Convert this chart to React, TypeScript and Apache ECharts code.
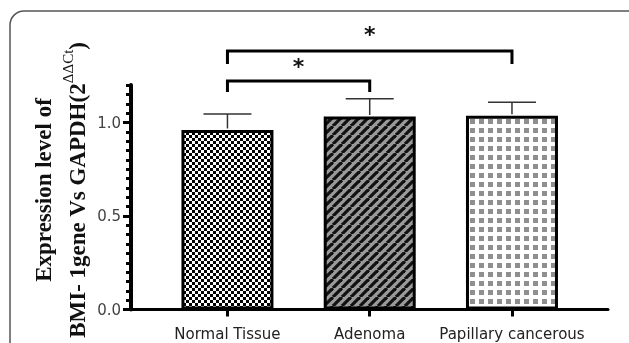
import React, { useEffect, useRef } from 'react';
import * as echarts from 'echarts';

const categories = ['Normal Tissue', 'Adenoma', 'Papillary cancerous'];
const means = [0.96, 1.032, 1.036];
const errors = [0.085, 0.095, 0.072];
const yTickValues = [0, 0.5, 1.0];
const yMax = 1.2;
const minorStep = 0.05;
// significance comparisons
const compFrom = [0, 0];
const compTo = [1, 2];
const compLevel = [1.222, 1.382];
const compLeg = [1.163, 1.313];
const compStarLevel = [1.3, 1.472];
const compLabel = ['*', '*'];

const X_MIN = 0.322;
const X_MAX = 3.675;

function makeCanvas(size: number, draw: (ctx: CanvasRenderingContext2D) => void) {
  const c = document.createElement('canvas');
  c.width = size;
  c.height = size;
  const ctx = c.getContext('2d')!;
  draw(ctx);
  return c;
}

export default function App() {
  const ref = useRef<HTMLDivElement>(null);
  useEffect(() => {
    if (!ref.current) return;
    const chart = echarts.init(ref.current, undefined, { renderer: 'svg' });

    const checker = makeCanvas(6, (ctx) => {
      ctx.fillStyle = '#fff';
      ctx.fillRect(0, 0, 6, 6);
      ctx.fillStyle = '#000';
      ctx.fillRect(0, 0, 3, 3);
      ctx.fillRect(3, 3, 3, 3);
    });
    const stripes = makeCanvas(9, (ctx) => {
      ctx.fillStyle = '#9a9a9a';
      ctx.fillRect(0, 0, 9, 9);
      ctx.strokeStyle = '#111';
      ctx.lineWidth = 3.2;
      for (const k of [-1, 0, 1]) {
        ctx.beginPath();
        ctx.moveTo(k * 9, 9);
        ctx.lineTo(k * 9 + 9, 0);
        ctx.stroke();
      }
    });
    const dots = makeCanvas(9, (ctx) => {
      ctx.fillStyle = '#fff';
      ctx.fillRect(0, 0, 9, 9);
      ctx.fillStyle = '#8f8f8f';
      ctx.fillRect(2, 2, 5, 5);
    });
    const patterns = [checker, stripes, dots];

    const option: any = {
      animation: false,
      grid: { left: 131, right: 21, top: 85.1, bottom: 33.5 },
      xAxis: {
        type: 'value',
        min: X_MIN,
        max: X_MAX,
        axisLine: { show: true, onZero: false, lineStyle: { color: '#000', width: 3 } },
        axisTick: { show: true, customValues: [1, 2, 3], length: 7, lineStyle: { color: '#000', width: 3 } },
        axisLabel: {
          customValues: [1, 2, 3],
          formatter: (v: number) => categories[Math.round(v) - 1] ?? '',
          fontFamily: 'DejaVu Sans',
          fontSize: 15,
          color: '#222',
          margin: 17,
        },
        splitLine: { show: false },
      },
      yAxis: [
        {
          type: 'value',
          min: 0,
          max: yMax,
          axisLine: { show: true, onZero: false, lineStyle: { color: '#000', width: 4 } },
          axisTick: { show: true, customValues: yTickValues, length: 8, lineStyle: { color: '#000', width: 3 } },
          axisLabel: {
            customValues: yTickValues,
            formatter: (v: number) => v.toFixed(1),
            fontFamily: 'DejaVu Sans',
            fontSize: 15,
            color: '#444',
            margin: 10,
          },
          splitLine: { show: false },
        },
        {
          type: 'value',
          min: 0,
          max: yMax,
          interval: minorStep,
          position: 'left',
          axisLine: { show: false },
          axisTick: { show: true, length: 5, lineStyle: { color: '#000', width: 3 } },
          axisLabel: { show: false },
          splitLine: { show: false },
        },
      ],
      graphic: [
        {
          type: 'rect',
          shape: { x: 10, y: 11, width: 700, height: 420, r: 14 },
          style: { fill: 'none', stroke: '#555', lineWidth: 1.5 },
          z: -1,
        },
        {
          type: 'text',
          x: 60,
          y: 190,
          rotation: Math.PI / 2,
          style: {
            text: '{a|Expression level of}\n{a|BMI- 1gene Vs GAPDH(2}{s|ΔΔCt}{a|)}',
            align: 'center',
            verticalAlign: 'middle',
            rich: {
              a: { fontFamily: 'Liberation Serif', fontWeight: 'bold', fontSize: 23, lineHeight: 34, fill: '#111' },
              s: { fontFamily: 'Liberation Serif', fontSize: 15, verticalAlign: 'top', padding: [0, 0, 0, 0], fill: '#111' },
            },
          },
        },
      ],
      series: [
        {
          type: 'bar',
          barWidth: 92,
          data: means.map((m, i) => ({
            value: [i + 1, m],
            itemStyle: { color: { image: patterns[i], repeat: 'repeat' } },
          })),
          itemStyle: { borderColor: '#000', borderWidth: 3 },
          z: 2,
        },
        {
          type: 'custom',
          z: 3,
          data: means.map((m, i) => [i + 1, m, m + errors[i]]),
          renderItem: (params: any, api: any) => {
            const x = api.value(0);
            const p0 = api.coord([x, api.value(1)]);
            const p1 = api.coord([x, api.value(2)]);
            const hw = 24;
            return {
              type: 'group',
              children: [
                { type: 'line', shape: { x1: p0[0], y1: p0[1] - 1.5, x2: p1[0], y2: p1[1] }, style: { stroke: '#333', lineWidth: 1.5 } },
                { type: 'line', shape: { x1: p1[0] - hw, y1: p1[1], x2: p1[0] + hw, y2: p1[1] }, style: { stroke: '#333', lineWidth: 1.5 } },
              ],
            };
          },
        },
        {
          type: 'custom',
          clip: false,
          z: 4,
          data: compFrom.map((f, i) => [f + 1, compTo[i] + 1, compLevel[i], compLeg[i], compStarLevel[i]]),
          renderItem: (params: any, api: any) => {
            const a = api.coord([api.value(0), api.value(2)]);
            const b = api.coord([api.value(1), api.value(2)]);
            const leg = api.coord([api.value(0), api.value(3)]);
            const s = api.coord([(api.value(0) + api.value(1)) / 2, api.value(4)]);
            return {
              type: 'group',
              children: [
                {
                  type: 'polyline',
                  shape: { points: [[a[0], leg[1]], a, b, [b[0], leg[1]]] },
                  style: { stroke: '#000', lineWidth: 3, fill: 'none', lineJoin: 'miter' },
                },
                {
                  type: 'text',
                  x: s[0],
                  y: s[1],
                  style: {
                    text: compLabel[params.dataIndex],
                    font: 'bold 22px "DejaVu Sans"',
                    align: 'center',
                    verticalAlign: 'middle',
                    fill: '#111',
                  },
                },
              ],
            };
          },
        },
      ],
    };
    chart.setOption(option);
    return () => chart.dispose();
  }, []);
  return <div ref={ref} style={{ position: 'fixed', left: 0, top: 0, width: 629, height: 343 }} />;
}
